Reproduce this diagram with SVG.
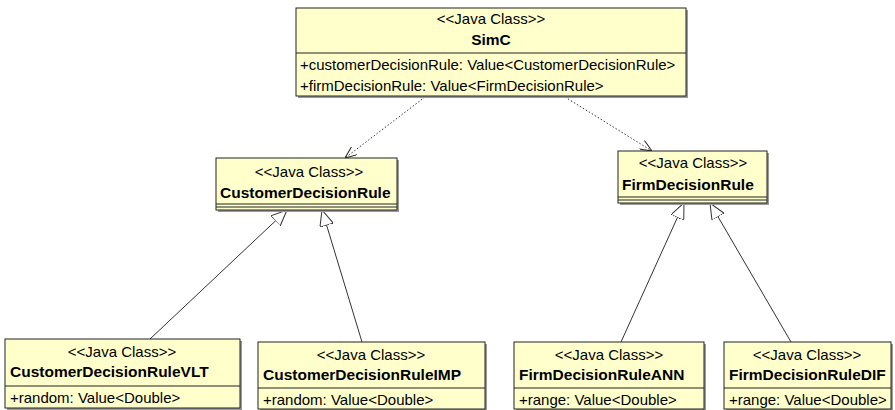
<svg xmlns="http://www.w3.org/2000/svg" width="895" height="410" viewBox="0 0 895 410">
<style>
.box{fill:#ffffcc;stroke:#222;stroke-width:1}
.sh{fill:#999}
.sep{stroke:#222;stroke-width:1}
text{font-family:"Liberation Sans",Arial,sans-serif;font-size:15px;fill:#000}
.st{text-anchor:middle}
.nm{font-weight:bold;font-size:15.5px}
.dep{stroke:#333;stroke-width:1;stroke-dasharray:1.5,2;fill:none}
.gen{stroke:#333;stroke-width:1;fill:none}
</style>
<defs>
<marker id="open" viewBox="0 0 12 10" refX="12" refY="5" markerWidth="12" markerHeight="10" markerUnits="userSpaceOnUse" orient="auto">
<path d="M0,0 L12,5 L0,10" fill="none" stroke="#222" stroke-width="1"/>
</marker>
<marker id="tri" viewBox="0 0 16 14" refX="16" refY="7" markerWidth="16" markerHeight="14" markerUnits="userSpaceOnUse" orient="auto">
<path d="M0,0 L16,7 L0,14 Z" fill="#fff" stroke="#333" stroke-width="1"/>
</marker>
</defs>
<g id="connectors">
<line class="dep" x1="425" y1="97" x2="345" y2="158" marker-end="url(#open)"/>
<line class="dep" x1="565" y1="97" x2="652" y2="151" marker-end="url(#open)"/>
<line class="gen" x1="150" y1="339" x2="287" y2="210" marker-end="url(#tri)"/>
<line class="gen" x1="362" y1="342" x2="322" y2="210" marker-end="url(#tri)"/>
<line class="gen" x1="621" y1="342" x2="684" y2="203" marker-end="url(#tri)"/>
<line class="gen" x1="791" y1="342" x2="710" y2="203" marker-end="url(#tri)"/>
</g>
<g id="SimC">
<rect class="sh" x="298" y="10" width="390" height="88"/>
<rect class="box" x="296" y="8" width="390" height="88"/>
<line class="sep" x1="296" y1="53" x2="686" y2="53"/>
<text class="st" x="491" y="24">&lt;&lt;Java Class&gt;&gt;</text>
<text class="st nm" x="491" y="45">SimC</text>
<text x="300" y="70">+customerDecisionRule: Value&lt;CustomerDecisionRule&gt;</text>
<text x="300" y="91">+firmDecisionRule: Value&lt;FirmDecisionRule&gt;</text>
</g>
<g id="CustomerDecisionRule">
<rect class="sh" x="218" y="160" width="181" height="52"/>
<rect class="box" x="216" y="158" width="181" height="52"/>
<line class="sep" x1="216" y1="204" x2="397" y2="204"/>
<line class="sep" x1="216" y1="207" x2="397" y2="207"/>
<text class="st" x="309" y="177">&lt;&lt;Java Class&gt;&gt;</text>
<text class="nm" x="220" y="198">CustomerDecisionRule</text>
</g>
<g id="FirmDecisionRule">
<rect class="sh" x="620" y="153" width="149" height="52"/>
<rect class="box" x="618" y="151" width="149" height="52"/>
<line class="sep" x1="618" y1="197" x2="767" y2="197"/>
<line class="sep" x1="618" y1="200" x2="767" y2="200"/>
<text class="st" x="693" y="168">&lt;&lt;Java Class&gt;&gt;</text>
<text class="nm" x="622" y="190">FirmDecisionRule</text>
</g>
<g id="CustomerDecisionRuleVLT">
<rect class="sh" x="7" y="341" width="235" height="69"/>
<rect class="box" x="5" y="339" width="235" height="69"/>
<line class="sep" x1="5" y1="386" x2="240" y2="386"/>
<text class="st" x="122" y="357">&lt;&lt;Java Class&gt;&gt;</text>
<text class="nm" x="10" y="377">CustomerDecisionRuleVLT</text>
<text x="10" y="403">+random: Value&lt;Double&gt;</text>
</g>
<g id="CustomerDecisionRuleIMP">
<rect class="sh" x="260" y="344" width="227" height="67"/>
<rect class="box" x="258" y="342" width="227" height="67"/>
<line class="sep" x1="258" y1="388" x2="485" y2="388"/>
<text class="st" x="371" y="360">&lt;&lt;Java Class&gt;&gt;</text>
<text class="nm" x="263" y="380">CustomerDecisionRuleIMP</text>
<text x="263" y="405">+random: Value&lt;Double&gt;</text>
</g>
<g id="FirmDecisionRuleANN">
<rect class="sh" x="516" y="344" width="190" height="67"/>
<rect class="box" x="514" y="342" width="190" height="67"/>
<line class="sep" x1="514" y1="388" x2="704" y2="388"/>
<text class="st" x="609" y="360">&lt;&lt;Java Class&gt;&gt;</text>
<text class="nm" x="519" y="380">FirmDecisionRuleANN</text>
<text x="519" y="405">+range: Value&lt;Double&gt;</text>
</g>
<g id="FirmDecisionRuleDIF">
<rect class="sh" x="726" y="344" width="167" height="67"/>
<rect class="box" x="724" y="342" width="167" height="67"/>
<line class="sep" x1="724" y1="388" x2="891" y2="388"/>
<text class="st" x="807" y="360">&lt;&lt;Java Class&gt;&gt;</text>
<text class="nm" x="729" y="380">FirmDecisionRuleDIF</text>
<text x="729" y="405">+range: Value&lt;Double&gt;</text>
</g>
</svg>
